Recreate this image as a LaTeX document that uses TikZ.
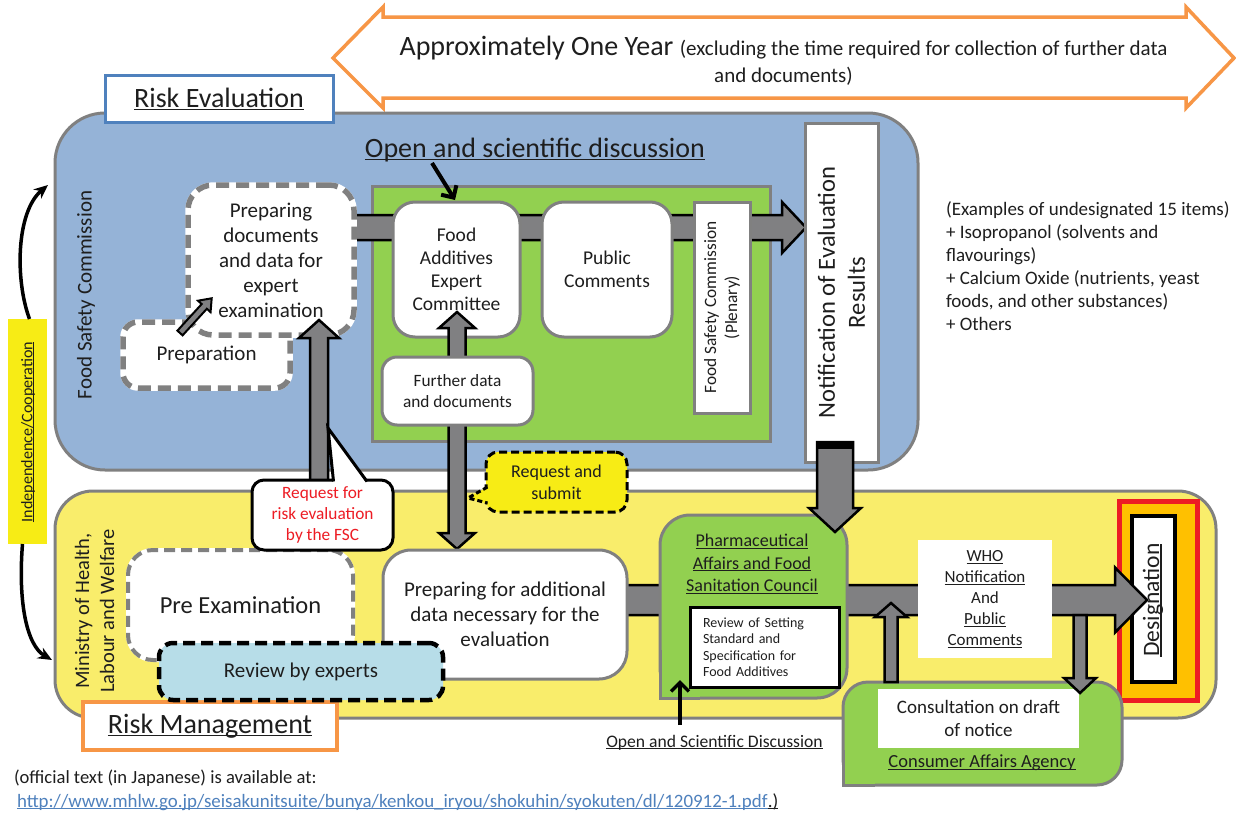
\documentclass[tikz,border=0pt]{standalone}
\usepackage{fontspec}
\setmainfont{Carlito}
\usetikzlibrary{arrows.meta,calc}
\definecolor{txt}{RGB}{30,30,30}
\definecolor{bluefill}{RGB}{149,179,215}
\definecolor{yellowfill}{RGB}{249,237,107}
\definecolor{brightyellow}{RGB}{247,236,21}
\definecolor{greenfill}{RGB}{146,208,80}
\definecolor{lightbluefill}{RGB}{183,221,232}
\definecolor{orangeb}{RGB}{247,150,70}
\definecolor{evalblue}{RGB}{79,129,189}
\definecolor{bordergray}{RGB}{128,128,128}
\definecolor{arrowgray}{RGB}{128,128,130}
\definecolor{redtxt}{RGB}{237,28,36}
\definecolor{desigorange}{RGB}{255,192,0}
\definecolor{desigred}{RGB}{237,28,36}
\definecolor{urlblue}{RGB}{79,129,189}
\newcommand\fs[2]{\fontsize{#1}{#2}\selectfont}
\newsavebox\ulbox
\newcommand\undl[1]{\sbox\ulbox{#1}\rlap{\rule[-0.11em]{\wd\ulbox}{0.055em}}\usebox\ulbox}
% horizontal fat arrow: start, tip, half shaft, half head, head length
\newcommand\hfatarrow[5]{\draw[fatarrow] let \p1=#1, \p2=#2 in
 (\x1,{\y2+#3}) -- ({\x2-#5},{\y2+#3}) -- ({\x2-#5},{\y2+#4}) -- (\x2,\y2) --
 ({\x2-#5},{\y2-#4}) -- ({\x2-#5},{\y2-#3}) -- (\x1,{\y2-#3}) -- cycle;}
% vertical fat arrow: start, tip, half shaft, half head, signed head length (+ up, - down)
\newcommand\vfatarrow[5]{\draw[fatarrow] let \p1=#1, \p2=#2 in
 ({\x2-#3},\y1) -- ({\x2-#3},{\y2-(#5)}) -- ({\x2-#4},{\y2-(#5)}) -- (\x2,\y2) --
 ({\x2+#4},{\y2-(#5)}) -- ({\x2+#3},{\y2-(#5)}) -- ({\x2+#3},\y1) -- cycle;}
% double vertical fat arrow: top tip, bottom tip, half shaft, half head, head length
\newcommand\dvfatarrow[5]{\draw[fatarrow] let \p1=#1, \p2=#2 in
 (\x1,\y1) -- ({\x1+#4},{\y1-#5}) -- ({\x1+#3},{\y1-#5}) -- ({\x1+#3},{\y2+#5}) --
 ({\x1+#4},{\y2+#5}) -- (\x1,\y2) -- ({\x1-#4},{\y2+#5}) -- ({\x1-#3},{\y2+#5}) --
 ({\x1-#3},{\y1-#5}) -- ({\x1-#4},{\y1-#5}) -- cycle;}
\tikzset{
 every node/.style={inner sep=0pt, outer sep=0pt, text=txt},
 fatarrow/.style={draw=black, fill=arrowgray, line width=2.5pt, line join=miter},
 wbox/.style={draw=bordergray, line width=3pt, fill=white, align=center},
 graydash/.style={fill=white, draw=bordergray, align=center,
   preaction={draw=white, solid}},
 barbarrow/.style={draw=black, line width=4pt, -{Straight Barb[length=9pt,width=18pt]}},
 curvarrow/.style={draw=black, line width=3.5pt, -{Stealth[length=14pt,width=12pt]}},
 squarecorner/.style={draw=bordergray, line width=3pt, fill=greenfill, line join=miter},
}
\begin{document}
\begin{tikzpicture}[x=1pt,y=-1pt]
\useasboundingbox (0,0) rectangle (1236,814);
\fill[white] (0,0) rectangle (1236,814);

% ---- big double arrow
\draw[draw=orangeb, line width=3.5pt, fill=white, line join=miter]
 (333,58) -- (383,7) -- (383,17) -- (1186,17) -- (1186,7) -- (1234,58) --
 (1186,108) -- (1186,98) -- (383,98) -- (383,108) -- cycle;
\node[anchor=base, font={\fs{28}{32}}] (yeartxt) at (783.5,55)
 {Approximately One Year {\fs{21}{25}(excluding the time required for collection of further data}};
\node[anchor=base, font={\fs{21}{25}}] (yeartxt2) at (783.5,82) {and documents)};

% ---- containers
\node[draw=bordergray, line width=3pt, fill=bluefill, rounded corners=50pt,
 minimum width=863pt, minimum height=357pt] (fsc) at (486.5,291.5) {};
\node[draw=bordergray, line width=3pt, fill=yellowfill, rounded corners=38pt,
 minimum width=1161pt, minimum height=227pt] (mhlw) at (635.5,604.5) {};
\node[draw=evalblue, line width=3pt, fill=white, minimum width=228pt, minimum height=47pt,
 font={\fs{28}{30}}] (riskeval) at (219,99) {\undl{Risk Evaluation}};
\node[draw=orangeb, line width=4pt, fill=white, minimum width=254pt, minimum height=48pt,
 font={\fs{28}{30}}] (riskmgmt) at (210,726) {\undl{Risk Management}};

% ---- vertical labels
\node[rotate=90, font={\fs{21}{24}}] (fsclabel) at (86,295) {Food Safety Commission};
\node[rotate=90, align=center, font={\fs{20.5}{25}}] (mhlwlabel) at (94.5,611)
 {Ministry of Health,\\Labour and Welfare};

% ---- green discussion area
\node[draw=bordergray, line width=3pt, fill=greenfill, minimum width=398pt,
 minimum height=255pt] (greenrect) at (571,313.5) {};
\node[anchor=base, font={\fs{28}{32}}] (osdhead) at (535,157) {\undl{Open and scientific discussion}};

\coordinate (aS) at (345,227.5);
\coordinate (aT) at (806,227.5);
\hfatarrow{(aS)}{(aT)}{12.5}{25.5}{24}

\node[wbox, rounded corners=22pt, minimum width=127pt, minimum height=135pt,
 font={\fs{19.5}{23}}] (faec) at (456.5,269.5) {Food\\Additives\\Expert\\Committee};
\node[wbox, rounded corners=22pt, minimum width=130pt, minimum height=135pt,
 font={\fs{19.5}{23}}] (pubc) at (607,269.5) {Public\\Comments};
\node[wbox, rotate=90, minimum width=211pt, minimum height=56pt,
 font={\fs{17.3}{21}}] (plenary) at (722,307.5) {Food Safety Commission\\(Plenary)};
\node[wbox, rotate=90, minimum width=339pt, minimum height=73pt,
 font={\fs{24.6}{30}}] (notif) at (841.5,292.5) {Notification of Evaluation\\Results};

\coordinate (osdA) at (432,163);
\coordinate (osdB) at (455,200);
\draw[barbarrow] (osdA) -- (osdB);

% ---- preparation boxes
\node[graydash, line width=5.5pt, dash pattern=on 13pt off 7pt, rounded corners=15pt,
 minimum width=167pt, minimum height=66pt, font={\fs{21}{25}}] (prep) at (206.5,355) {Preparation};
\node[graydash, line width=5.5pt, dash pattern=on 13pt off 7pt, rounded corners=25pt,
 minimum width=166pt, minimum height=150pt, font={\fs{21}{25}}] (prepdocs) at (271,260)
 {Preparing\\documents\\and data for\\expert\\examination};
\begin{scope}[shift={(180,333)}, rotate=47.6]
 \draw[fatarrow, line width=2pt] (0,3.5) -- (36,3.5) -- (36,8.5) -- (47,0) -- (36,-8.5) -- (36,-3.5) -- (0,-3.5) -- cycle;
\end{scope}

% ---- further data double arrow
\coordinate (dT1) at (457,312);
\coordinate (dT2) at (457,549);
\dvfatarrow{(dT1)}{(dT2)}{8.5}{18}{16}
\node[wbox, rounded corners=15pt, minimum width=151pt, minimum height=68pt,
 font={\fs{17.3}{21}}] (further) at (457.5,391) {Further data\\and documents};

% ---- MHLW boxes
\node[graydash, line width=4pt, dash pattern=on 11pt off 6pt, rounded corners=25pt,
 minimum width=225pt, minimum height=110pt, font={\fs{24.5}{28}}] (preexam) at (240.5,605) {Pre Examination};

% designation boxes
\node[fill=desigorange, draw=desigred, line width=5pt, minimum width=78pt,
 minimum height=199pt] (desigouter) at (1158,600.5) {};
\node[fill=white, draw=black, line width=4pt, minimum width=43pt,
 minimum height=166pt] (desiginner) at (1153.5,599) {};

\coordinate (fS) at (620,600);
\coordinate (fT) at (1147,600);
\hfatarrow{(fS)}{(fT)}{15}{32.5}{32}
\node[rotate=90, font={\fs{23.5}{28}}] (desigtext) at (1153,600) {\undl{Designation}};

\node[wbox, rounded corners=28pt, minimum width=244pt, minimum height=129pt,
 font={\fs{21}{25}}] (prepadd) at (505,614.5)
 {Preparing for additional\\data necessary for the\\evaluation};
\node[fill=lightbluefill, draw=black, line width=4.5pt, dash pattern=on 12pt off 6pt,
 rounded corners=14pt, minimum width=284pt, minimum height=57pt,
 font={\fs{21}{24}}] (review) at (301,671.5) {Review by experts};

% pharmaceutical council
\node[draw=bordergray, line width=3pt, fill=greenfill, rounded corners=30pt,
 minimum width=187pt, minimum height=183pt] (pharma) at (753.5,606.5) {};
\fill[greenfill] (661.5,650) rectangle (700,696.5);
\draw[squarecorner, fill=none] (pharma.west |- 0,650) -- (pharma.south west) -- (700,698);
\node[align=center, font={\fs{18}{22.5}}] (pharmatitle) at (752,564)
 {\undl{Pharmaceutical}\\\undl{Affairs and Food}\\\undl{Sanitation Council}};
\node[draw=black, line width=3pt, fill=white, minimum width=149pt, minimum height=80pt,
 text width=123pt, inner xsep=13pt, align=left, font={\fs{14}{16.5}}] (pharmareview) at (764.5,647)
 {Review of Setting\\Standard and\\Specification for\\Food Additives};

\coordinate (eS) at (835,442);
\coordinate (eT) at (835,532);
\vfatarrow{(eS)}{(eT)}{18}{26}{-24}
\fill[black] (816,441) rectangle (854,449);

\node[fill=white, minimum width=134pt, minimum height=118pt, align=center,
 font={\fs{17}{21}}] (who) at (985,599)
 {\undl{WHO}\\\undl{Notification}\\And\\\undl{Public}\\\undl{Comments}};

% consumer affairs agency
\node[draw=bordergray, line width=3pt, fill=greenfill, rounded corners=25pt,
 minimum width=279pt, minimum height=103pt] (consumer) at (982.5,733.5) {};
\fill[greenfill] (844.5,750) rectangle (875,783.5);
\draw[squarecorner, fill=none] (consumer.west |- 0,750) -- (consumer.south west) -- (875,785);
\node[fill=white, minimum width=201pt, minimum height=59pt, align=center,
 font={\fs{19}{23}}] (consult) at (978.5,718.5) {Consultation on draft\\of notice};
\node[font={\fs{18.5}{21}}] (caa) at (982,763) {\undl{Consumer Affairs Agency}};
\coordinate (gS) at (891,682);
\coordinate (gT) at (891,603);
\vfatarrow{(gS)}{(gT)}{6.5}{16}{14}
\coordinate (hS) at (1080,615);
\coordinate (hT) at (1080,693);
\vfatarrow{(hS)}{(hT)}{6.5}{16}{-15}

% ---- request for risk evaluation
\coordinate (bS) at (319,482);
\coordinate (bT) at (319,320);
\vfatarrow{(bS)}{(bT)}{9}{20}{18}
\node[draw=black, line width=3pt, fill=white, rounded corners=12pt, minimum width=141pt,
 minimum height=70pt, align=center, text=redtxt, font={\fs{17.3}{21}}] (reqcall) at (322.5,515)
 {Request for\\risk evaluation\\by the FSC};
\coordinate (reqtip) at (328,428);
\fill[white] (333,484) -- (reqtip) -- (367,484) -- cycle;
\draw[black, line width=3pt, line join=miter] (333.5,481.5) -- (reqtip) -- (367,481.5);

% ---- request and submit
\node[draw=black, line width=3pt, dash pattern=on 8pt off 4pt, fill=brightyellow,
 rounded corners=12pt, minimum width=141pt, minimum height=60pt, align=center,
 font={\fs{18}{22}}] (reqsub) at (556.5,482) {Request and\\submit};
\coordinate (subtip) at (468,498);
\fill[brightyellow] (489,486) -- (subtip) -- (489,504) -- cycle;
\draw[black, line width=3pt, dash pattern=on 5pt off 3pt] (487.5,487) -- (subtip) -- (487.5,503);

% ---- independence / cooperation
\node[fill=brightyellow, minimum width=39pt, minimum height=225pt] (indep) at (27.5,431.5) {};
\node[rotate=90, font={\fs{16.1}{19}}] (indeptext) at (28,432) {\undl{Independence/Cooperation}};
\coordinate (fscL) at (48,185);
\coordinate (mhlwL) at (52,660);
\draw[curvarrow] ([xshift=2pt]indep.north) .. controls (15,280) and (16,212) .. (fscL);
\draw[curvarrow] ([xshift=-5pt]indep.south) .. controls (18,600) and (26,645) .. (mhlwL);

% ---- open and scientific discussion (lower)
\node[anchor=base, font={\fs{17.6}{20}}] (osdlow) at (714.5,747) {\undl{Open and Scientific Discussion}};
\coordinate (osdlowtop) at (680,725);
\coordinate (pharmain) at (680,680);
\draw[barbarrow, line width=3.5pt] (osdlowtop) -- (pharmain);

% ---- examples
\node[anchor=north west, align=left, font={\fs{19}{23}}] (examples) at (946,202)
 {(Examples of undesignated 15 items)\\+ Isopropanol (solvents and\\flavourings)\\+ Calcium Oxide (nutrients, yeast\\foods, and other substances)\\+ Others};

% ---- footnote
\node[anchor=base west, font={\fs{18.6}{22}}] (foot1) at (14,783) {(official text (in Japanese) is available at:};
\node[anchor=base west, font={\fs{18.9}{22}}] (foot2) at (17,807)
 {\textcolor{urlblue}{\undl{http://www.mhlw.go.jp/seisakunitsuite/bunya/kenkou\_iryou/shokuhin/syokuten/dl/120912-1.pdf}}\undl{.)}};
\end{tikzpicture}
\end{document}
